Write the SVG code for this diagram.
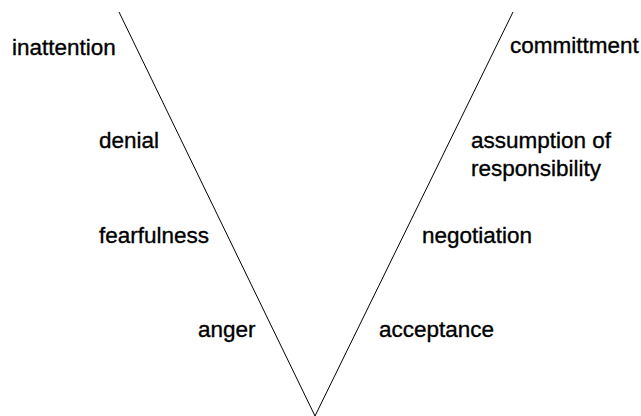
<svg xmlns="http://www.w3.org/2000/svg" width="641" height="416" viewBox="0 0 641 416">
<style>
.lbl{font-family:"Liberation Sans",Arial,sans-serif;font-size:22.5px;fill:#000;stroke:#000;stroke-width:0.35px}
.ln{stroke:#000;stroke-width:1;fill:none}
</style>
<rect width="641" height="416" fill="#fff"/>
<g id="connectors">
<line class="ln" x1="119" y1="12" x2="315" y2="416"/>
<line class="ln" x1="513" y1="12" x2="315" y2="416"/>
</g>
<g id="inattention"><text class="lbl" x="12" y="55">inattention</text></g>
<g id="denial"><text class="lbl" x="99" y="148">denial</text></g>
<g id="fearfulness"><text class="lbl" x="99" y="243">fearfulness</text></g>
<g id="anger"><text class="lbl" x="198" y="337">anger</text></g>
<g id="committment"><text class="lbl" x="510" y="53">committment</text></g>
<g id="assumption"><text class="lbl" x="471" y="148">assumption of</text><text class="lbl" x="471" y="176">responsibility</text></g>
<g id="negotiation"><text class="lbl" x="422" y="243">negotiation</text></g>
<g id="acceptance"><text class="lbl" x="379" y="337">acceptance</text></g>
</svg>
